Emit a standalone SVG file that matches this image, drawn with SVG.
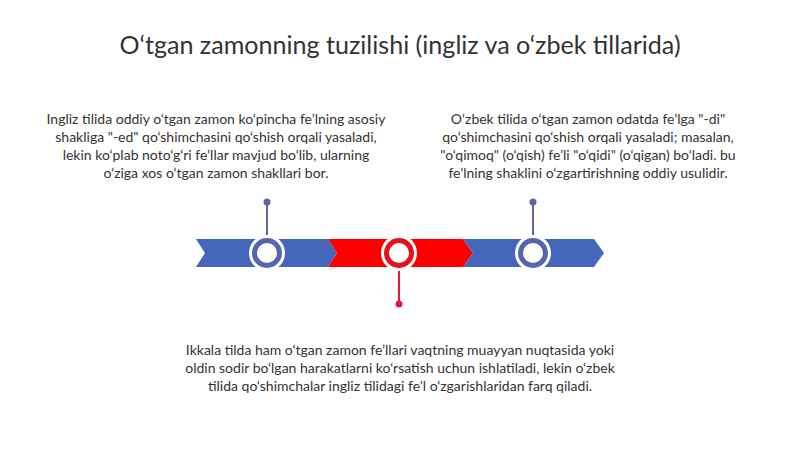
<svg xmlns="http://www.w3.org/2000/svg" width="800" height="449" viewBox="0 0 800 449">
<style>
.t{font-family:Lato,"Liberation Sans",sans-serif;fill:#333333;text-anchor:middle}
.b{font-size:14px}
.blue{fill:#4466bb}
.red{fill:#ff0000}
.rb{fill:#ffffff;stroke:#5566b0;stroke-width:5}
.rr{fill:#ffffff;stroke:#e4101c;stroke-width:5}
</style>
<rect width="800" height="449" fill="#ffffff"/>
<text class="t" x="400" y="54" font-size="25.1" fill="#262626">O‘tgan zamonning tuzilishi (ingliz va o‘zbek tillarida)</text>
<g id="arrows">
<polygon class="blue" points="196,239 328,239 337,253 328,267 196,267 205,253"/>
<polygon class="red" points="328,239 463,239 473,253 463,267 328,267 337,253"/>
<polygon class="blue" points="463,239 594,239 604,253 594,267 463,267 473,253"/>
</g>
<g id="connectors">
<line x1="267" y1="202" x2="267" y2="238" stroke="#5d6a99" stroke-width="2"/>
<circle cx="267" cy="202" r="3.5" fill="#5d6a99"/>
<line x1="533" y1="202" x2="533" y2="238" stroke="#5d6a99" stroke-width="2"/>
<circle cx="533" cy="202" r="3.5" fill="#5d6a99"/>
<line x1="399" y1="268" x2="399" y2="304" stroke="#e8163c" stroke-width="2"/>
<circle cx="399" cy="304" r="3.5" fill="#e8163c"/>
</g>
<g id="node1">
<circle cx="267" cy="253" r="18" fill="#ffffff"/>
<circle class="rb" cx="267" cy="253" r="12.5"/>
</g>
<g id="node2">
<circle cx="399" cy="253" r="18" fill="#ffffff"/>
<circle class="rr" cx="399" cy="253" r="12.5"/>
</g>
<g id="node3">
<circle cx="533" cy="253" r="18" fill="#ffffff"/>
<circle class="rb" cx="533" cy="253" r="12.5"/>
</g>
<g id="text-left" class="t b">
<text x="216" y="124">Ingliz tilida oddiy o‘tgan zamon ko‘pincha fe’lning asosiy</text>
<text x="216" y="142">shakliga "-ed" qo‘shimchasini qo‘shish orqali yasaladi,</text>
<text x="216" y="160">lekin ko‘plab noto‘g‘ri fe’llar mavjud bo‘lib, ularning</text>
<text x="216" y="178">o‘ziga xos o‘tgan zamon shakllari bor.</text>
</g>
<g id="text-right" class="t b">
<text x="588" y="124">O‘zbek tilida o‘tgan zamon odatda fe’lga "-di"</text>
<text x="588" y="142">qo‘shimchasini qo‘shish orqali yasaladi; masalan,</text>
<text x="588" y="160">"o‘qimoq" (o‘qish) fe’li "o‘qidi" (o‘qigan) bo‘ladi. bu</text>
<text x="588" y="178">fe’lning shaklini o‘zgartirishning oddiy usulidir.</text>
</g>
<g id="text-bottom" class="t b">
<text x="400" y="355">Ikkala tilda ham o‘tgan zamon fe’llari vaqtning muayyan nuqtasida yoki</text>
<text x="400" y="373">oldin sodir bo‘lgan harakatlarni ko‘rsatish uchun ishlatiladi, lekin o‘zbek</text>
<text x="400" y="391">tilida qo‘shimchalar ingliz tilidagi fe’l o‘zgarishlaridan farq qiladi.</text>
</g>
</svg>
